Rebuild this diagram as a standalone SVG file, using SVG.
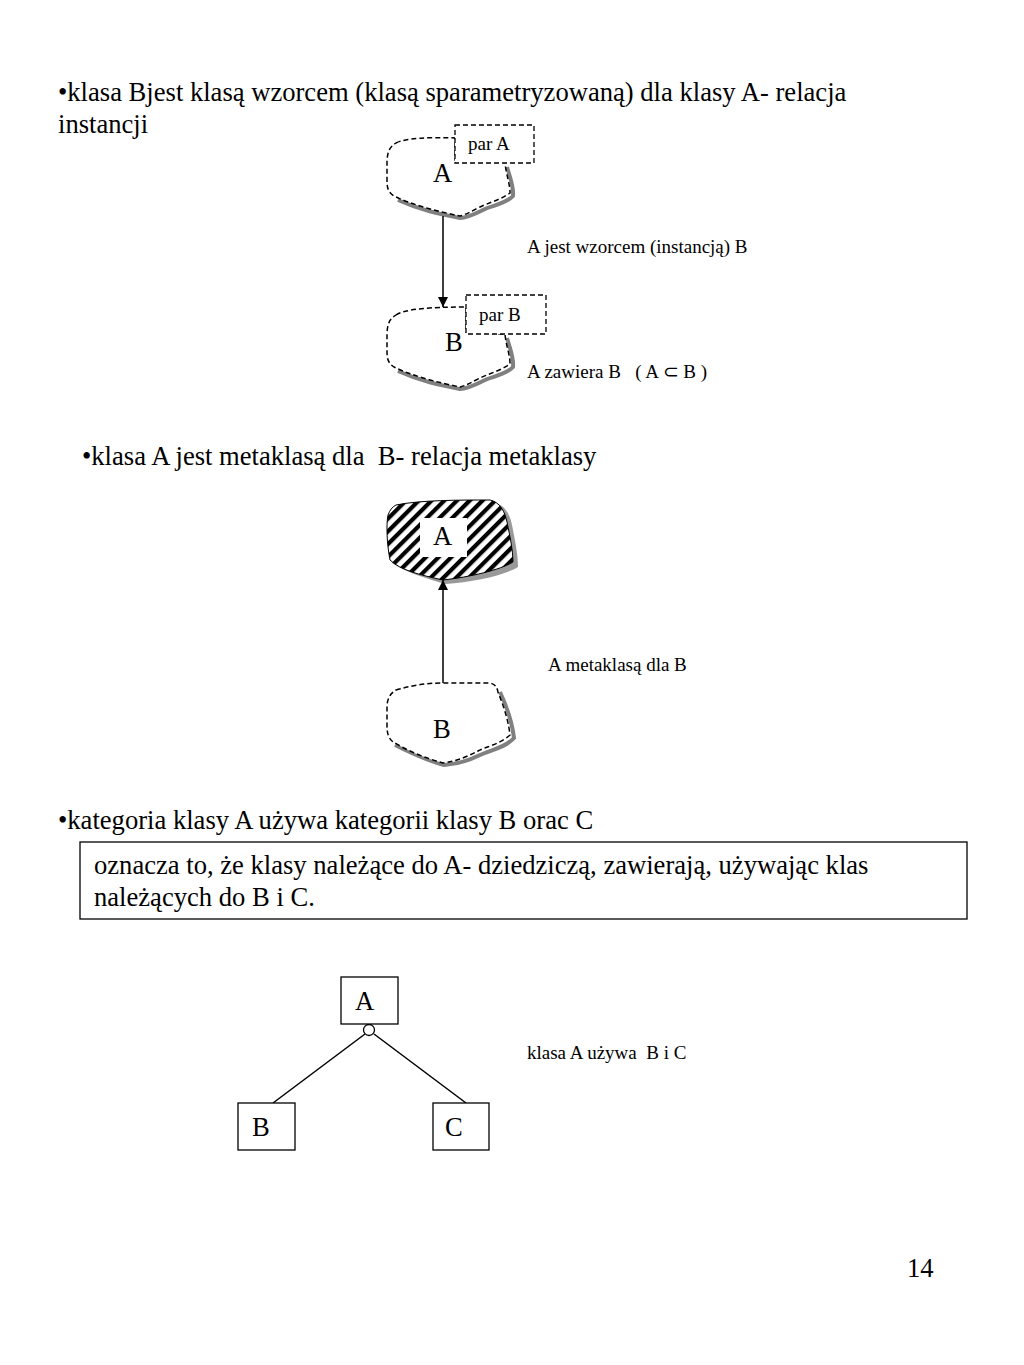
<svg xmlns="http://www.w3.org/2000/svg" width="1024" height="1365" viewBox="0 0 1024 1365">
<defs>
<style>
text{font-family:"Liberation Serif","Times New Roman",serif;fill:#000;white-space:pre}
.t24{font-size:26.6px}
.t16{font-size:19px}
.cloud{fill:#fff;stroke:#000;stroke-width:1.5;stroke-dasharray:5,3}
.shadow{fill:none;stroke:#808080;stroke-width:4}
.par{fill:#fff;stroke:#000;stroke-width:1.3;stroke-dasharray:5,3}
.box{fill:#fff;stroke:#000;stroke-width:1.3}
.ln{stroke:#000;stroke-width:1.5;fill:none}
</style>
<pattern id="hatch" patternUnits="userSpaceOnUse" width="9" height="9" patternTransform="rotate(45)">
<rect width="9" height="9" fill="#fff"/>
<rect width="4.2" height="9" fill="#000"/>
</pattern>
<marker id="arr" viewBox="0 0 10 10" refX="10" refY="5" markerWidth="10" markerHeight="12" markerUnits="userSpaceOnUse" orient="auto">
<path d="M0,0 L10,5 L0,10 z" fill="#000"/>
</marker>
</defs>

<g id="title1">
<text class="t24" x="58" y="101" xml:space="preserve">•klasa Bjest klasą wzorcem (klasą sparametryzowaną) dla klasy A- relacja</text>
<text class="t24" x="58" y="133">instancji</text>
</g>

<g id="cloudA1">
<path class="shadow" d="M507,167 C510,178 514,186 513,196 C506,204 490,206 483,210 C475,214 466,218 460,218 C440,214 420,210 398,200"/>
<path class="cloud" d="M396,143 C405,138 430,137 455,138 L455,160 L505,162 C506,175 510,183 510,193 C500,200 488,203 480,207 C472,211 465,215 460,216 C440,212 412,205 394,196 C388,192 387,188 387,180 L387,160 C388,150 390,147 396,143 Z"/>
<rect class="par" x="455" y="125" width="79" height="38"/>
<text class="t16" x="468" y="150">par A</text>
<text class="t24" x="433" y="182">A</text>
</g>

<g id="cloudB1">
<path class="shadow" d="M507,338 C510,349 514,357 513,367 C506,375 490,377 483,381 C475,385 466,389 460,389 C440,385 420,381 398,371"/>
<path class="cloud" d="M396,315 C405,309 430,307 466,307 L466,332 L505,334 C506,346 510,354 510,364 C500,371 488,374 480,378 C472,382 465,386 460,387 C440,383 412,376 394,367 C388,363 387,359 387,351 L387,332 C388,322 390,319 396,315 Z"/>
<rect class="par" x="466" y="295" width="80" height="39"/>
<text class="t16" x="479" y="321">par B</text>
<text class="t24" x="445" y="351">B</text>
</g>

<g id="labels1">
<text class="t16" x="527" y="253">A jest wzorcem (instancją) B</text>
<text class="t16" x="527" y="378" xml:space="preserve">A zawiera B   ( A ⊂ B )</text>
</g>

<g id="title2">
<text class="t24" x="82" y="465" xml:space="preserve">•klasa A jest metaklasą dla  B- relacja metaklasy</text>
</g>

<g id="cloudA2">
<path fill="#999" d="M400,508 C420,503 460,503 495,503 C505,505 510,515 512,525 C515,540 518,555 518,567 C505,575 475,582 445,584 C425,578 405,572 392,563 Z"/>
<path fill="url(#hatch)" stroke="#000" stroke-width="1" d="M396,505 C420,500 460,500 490,500 C500,502 505,512 507,522 C510,537 513,550 513,562 C500,570 470,577 443,580 C420,575 400,570 390,560 C387,545 386,525 388,515 C390,510 392,507 396,505 Z"/>
<rect x="420" y="518" width="47" height="39" fill="#fff"/>
<text class="t24" x="433" y="545">A</text>
</g>

<g id="cloudB2">
<path class="shadow" d="M500,692 C506,705 512,720 514,738 C505,748 490,750 480,755 C470,760 460,764 444,765 C425,760 410,752 395,745"/>
<path class="cloud" d="M396,690 C410,686 425,683 443,683 L490,683 C495,684 497,687 498,692 C503,705 508,718 510,735 C500,744 488,746 478,751 C468,756 458,761 443,763 C425,758 405,750 392,741 C388,737 387,733 387,725 L387,705 C388,697 391,693 396,690 Z"/>
<text class="t24" x="433" y="738">B</text>
</g>

<g id="labels2">
<text class="t16" x="548" y="671">A metaklasą dla B</text>
</g>

<g id="title3">
<text class="t24" x="58" y="829">•kategoria klasy A używa kategorii klasy B orac C</text>
</g>

<g id="noteBox">
<rect class="box" x="80" y="842" width="887" height="77"/>
<text class="t24" x="94" y="874">oznacza to, że klasy należące do A- dziedziczą, zawierają, używając klas</text>
<text class="t24" x="94" y="906">należących do B i C.</text>
</g>

<g id="connectors">
<line class="ln" x1="443" y1="216" x2="443" y2="307" marker-end="url(#arr)"/>
<line class="ln" x1="443" y1="683" x2="443" y2="580" marker-end="url(#arr)"/>
<line class="ln" x1="365" y1="1034" x2="273" y2="1103"/>
<line class="ln" x1="374" y1="1034" x2="466" y2="1103"/>
<circle cx="369" cy="1030" r="5.5" fill="#fff" stroke="#000" stroke-width="1.3"/>
</g>

<g id="nodeA3">
<rect class="box" x="341" y="977" width="57" height="47"/>
<text class="t24" x="355" y="1010">A</text>
</g>
<g id="nodeB3">
<rect class="box" x="238" y="1103" width="57" height="47"/>
<text class="t24" x="252" y="1136">B</text>
</g>
<g id="nodeC3">
<rect class="box" x="433" y="1103" width="56" height="47"/>
<text class="t24" x="445" y="1136">C</text>
</g>

<g id="labels3">
<text class="t16" x="527" y="1059" xml:space="preserve">klasa A używa  B i C</text>
<text class="t24" x="907" y="1277">14</text>
</g>
</svg>
